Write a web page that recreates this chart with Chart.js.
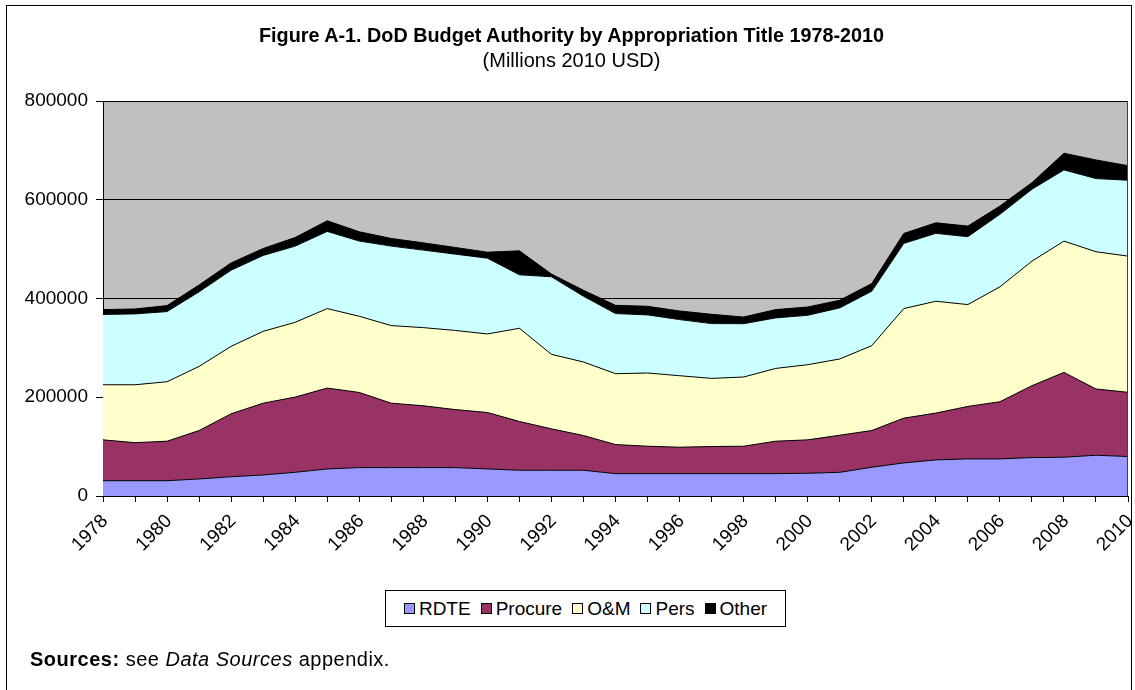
<!DOCTYPE html>
<html lang="en">
<head>
<meta charset="UTF-8">
<title>DoD Budget Authority by Appropriation Title 1978-2010</title>
<script src="https://cdn.jsdelivr.net/npm/chart.js"></script>
<style>
  body { margin: 0; background: #fff; font-family: 'Liberation Sans', Arial, sans-serif; color: #000; }
  #wrap { position: relative; width: 1135px; height: 690px; overflow: hidden; }
  #frame { position: absolute; left: 6px; top: 5px; width: 1124px; height: 720px; border: 1px solid #000; }
  #chart { position: absolute; left: 0; top: 0; }
  .title { position: absolute; left: 0; width: 1135px; text-align: center; white-space: nowrap; }
  #t1 { top: 24px; left: 4px; font-size: 19.8px; font-weight: bold; line-height: 22px; }
  #t2 { top: 49px; left: 4px; font-size: 20px; line-height: 22px; }
  #legend {
    position: absolute; left: 385px; top: 590px; width: 401px; height: 37px; box-sizing: border-box;
    border: 1px solid #000; background: #fff; display: flex; align-items: center; justify-content: center;
    font-size: 19px; white-space: nowrap;
  }
  #legend span.item { display: flex; align-items: center; margin: 0 5px; }
  #legend i { display: inline-block; width: 9px; height: 9px; border: 1px solid #000; margin-right: 4px; }
  #sources { position: absolute; left: 30px; top: 648px; font-size: 20px; line-height: 22px; white-space: nowrap; letter-spacing: 0.5px; }
</style>
</head>
<body>
<div id="wrap">
  <div id="frame"></div>
  <canvas id="chart" width="1135" height="690"></canvas>
  <div class="title" id="t1">Figure A-1. DoD Budget Authority by Appropriation Title 1978-2010</div>
  <div class="title" id="t2">(Millions 2010 USD)</div>
  <div id="legend"></div>
  <div id="sources"><b>Sources:</b> see <i>Data Sources</i> appendix.</div>
</div>

<script>
// years 1978 - 2010
const years = ['1978','1979','1980','1981','1982','1983','1984','1985','1986','1987','1988',
  '1989','1990','1991','1992','1993','1994','1995','1996','1997','1998','1999','2000',
  '2001','2002','2003','2004','2005','2006','2007','2008','2009','2010'];

// values, millions of 2010 USD
const rdte = [31000,31000,31000,34500,39000,42600,48000,54800,57500,57500,57500,
  57500,54800,52100,52100,52100,45300,45300,45300,45300,45300,45300,46000,
  48000,58200,67000,73100,75100,75100,77800,78500,82600,79900];
const procure = [82700,77000,80000,98100,127500,145400,152300,163800,152200,130500,125200,
  117500,114300,98800,83900,70400,58900,55500,53500,54900,55500,65700,67700,
  75100,74400,90700,94800,106300,115800,145600,171800,134200,130100];
const oandm = [111600,117300,120400,129900,136600,145500,151500,161000,154300,157100,158300,
  160300,159100,188800,150900,148900,143500,148300,144800,138000,140200,147400,152200,
  154400,171900,221900,226500,206300,232700,252200,265900,277900,275800];
const pers = [142400,143500,142100,151000,154300,153700,154300,156300,152300,161000,157000,
  154500,153500,108300,157100,133200,121800,117700,113700,111000,108000,102300,100100,
  103500,110200,132000,137500,137500,146800,145600,144200,148200,153700];
const other = [9800,10000,12100,14000,14700,14100,17500,21500,18800,15500,14700,
  13500,12100,48500,5500,12100,16700,17400,17400,18800,13500,16800,16800,
  15400,15600,20200,21400,21400,16800,13300,33800,37700,29500];

const seriesNames = ['RDTE', 'Procure', 'O&M', 'Pers', 'Other'];
const seriesData = [rdte, procure, oandm, pers, other];
const seriesColors = ['#9999FF', '#993366', '#FFFFCC', '#CCFFFF', '#000000'];

const yTicks = [0, 200000, 400000, 600000, 800000];

Chart.defaults.font.family = "'Liberation Sans', Arial, sans-serif";
Chart.defaults.color = '#000';

// gray plot area like the Excel original
const plotBg = {
  id: 'plotBg',
  beforeDraw(chart) {
    const { ctx, chartArea: a } = chart;
    ctx.save();
    ctx.fillStyle = '#C0C0C0';
    ctx.fillRect(a.left, a.top, a.right - a.left, a.bottom - a.top);
    ctx.restore();
  },
  afterDatasetsDraw(chart) {
    const { ctx, chartArea: a } = chart;
    ctx.save();
    ctx.strokeStyle = '#404040';
    ctx.lineWidth = 1;
    ctx.beginPath();
    ctx.moveTo(a.right - 0.5, a.top);
    ctx.lineTo(a.right - 0.5, a.bottom);
    ctx.stroke();
    ctx.restore();
  }
};

const datasets = seriesNames.map((name, i) => ({
  label: name,
  data: seriesData[i],
  backgroundColor: seriesColors[i],
  borderColor: '#000',
  borderWidth: 1,
  fill: i === 0 ? 'origin' : '-1',
  pointRadius: 0,
  tension: 0
}));

new Chart(document.getElementById('chart'), {
  type: 'line',
  data: { labels: years, datasets: datasets },
  options: {
    responsive: false,
    animation: false,
    layout: { padding: { left: 13, right: 7, top: 101, bottom: 94 } },
    plugins: {
      legend: { display: false },
      tooltip: { enabled: false }
    },
    scales: {
      x: {
        offset: false,
        grid: { drawOnChartArea: false, color: '#000', tickLength: 6 },
        border: { color: '#000' },
        ticks: {
          autoSkip: false, minRotation: 45, maxRotation: 45, padding: 8, labelOffset: 2,
          font: { size: 19 },
          callback: (v, i) => (i % 2 === 0 ? years[i] : '')
        },
        afterFit: s => {
          s.height = 100;
          // keep the plot edges fixed, labels may overhang
          s.paddingLeft = 0;
          s.paddingRight = 0;
        }
      },
      y: {
        stacked: true,
        min: 0,
        max: 800000,
        afterBuildTicks: s => { s.ticks = yTicks.map(v => ({ value: v })); },
        grid: { color: '#000', tickLength: 7 },
        border: { color: '#000' },
        ticks: { padding: 8, font: { size: 19 }, callback: v => String(v) },
        afterFit: s => { s.width = 90; }
      }
    }
  },
  plugins: [plotBg]
});

// legend built from the same series
const legend = document.getElementById('legend');
seriesNames.forEach((name, i) => {
  const item = document.createElement('span');
  item.className = 'item';
  const box = document.createElement('i');
  box.style.background = seriesColors[i];
  item.appendChild(box);
  item.appendChild(document.createTextNode(name));
  legend.appendChild(item);
});
</script>
</body>
</html>
